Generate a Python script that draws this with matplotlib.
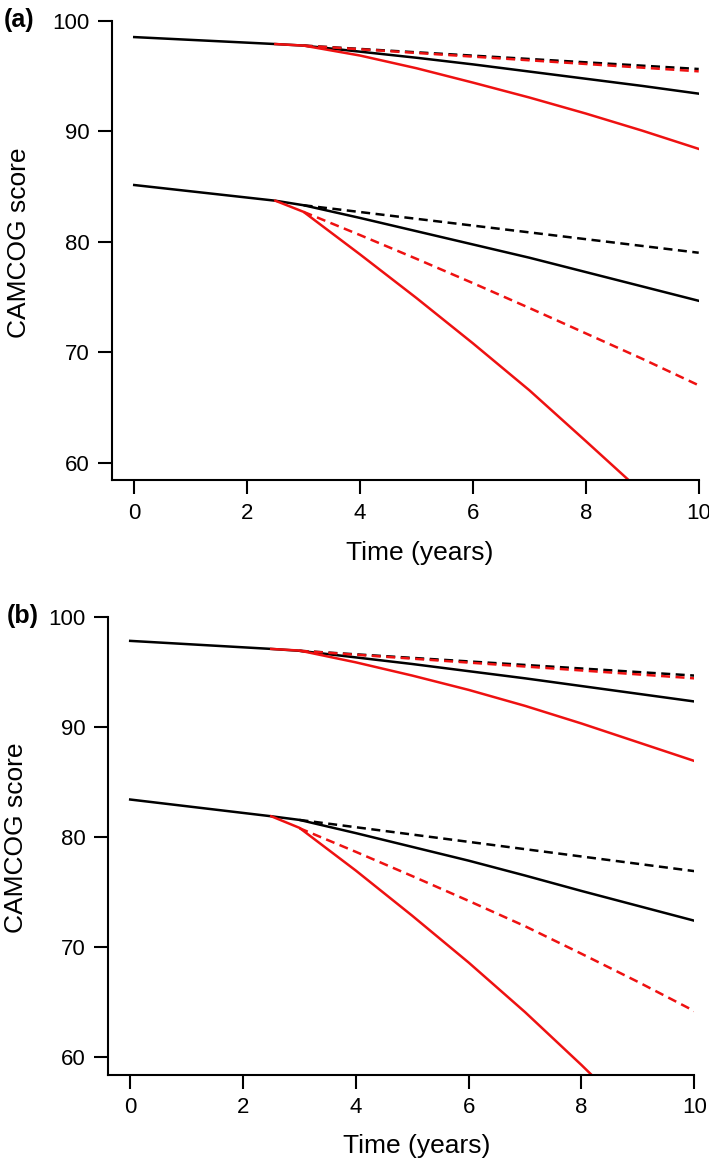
import matplotlib
matplotlib.use('Agg')
import matplotlib.pyplot as plt

plt.rcParams['font.family'] = ['Liberation Sans', 'DejaVu Sans']

# panel (a)
a_hi_base_t = [0, 2.5, 3, 4, 5, 6, 7, 8, 9, 10]
a_hi_base = [98.52, 97.89, 97.75, 97.2, 96.65, 96.05, 95.4, 94.75, 94.1, 93.4]
a_hi_red_t = [2.5, 3, 4, 5, 6, 7, 8, 9, 10]
a_hi_red = [97.89, 97.75, 96.85, 95.7, 94.4, 93.05, 91.6, 90.05, 88.4]
a_hi_dash_t = [3, 10]
a_hi_dash_black = [97.75, 95.63]
a_hi_dash_red = [97.75, 95.42]

a_lo_base_t = [0, 2.5, 3, 4, 5, 6, 7, 8, 9, 10]
a_lo_base = [85.13, 83.71, 83.3, 82.15, 80.95, 79.75, 78.55, 77.25, 75.95, 74.65]
a_lo_red_t = [2.5, 3, 4, 5, 6, 7, 8, 9]
a_lo_red = [83.71, 82.7, 78.85, 74.9, 70.8, 66.55, 61.95, 57.3]
a_lo_dash_t = [3, 10]
a_lo_dash_black = [83.3, 79.0]
a_lo_dash_red_t = [3, 4, 5, 6, 7, 8, 9, 10]
a_lo_dash_red = [82.7, 80.6, 78.45, 76.25, 74.0, 71.7, 69.4, 67.0]

# panel (b)
b_hi_base_t = [0, 2.5, 3, 4, 5, 6, 7, 8, 9, 10]
b_hi_base = [97.8, 97.07, 96.9, 96.3, 95.7, 95.05, 94.4, 93.7, 93.0, 92.3]
b_hi_red_t = [2.5, 3, 4, 5, 6, 7, 8, 9, 10]
b_hi_red = [97.07, 96.92, 95.85, 94.65, 93.35, 91.9, 90.3, 88.6, 86.9]
b_hi_dash_t = [3, 10]
b_hi_dash_black = [96.9, 94.65]
b_hi_dash_red = [96.9, 94.4]

b_lo_base_t = [0, 2.5, 3, 4, 5, 6, 7, 8, 9, 10]
b_lo_base = [83.4, 81.88, 81.55, 80.35, 79.1, 77.85, 76.5, 75.1, 73.75, 72.4]
b_lo_red_t = [2.5, 3, 4, 5, 6, 7, 8, 9]
b_lo_red = [81.88, 80.83, 76.95, 72.85, 68.6, 64.1, 59.3, 54.3]
b_lo_dash_t = [3, 10]
b_lo_dash_black = [81.55, 76.9]
b_lo_dash_red_t = [3, 4, 5, 6, 7, 8, 9, 10]
b_lo_dash_red = [80.8, 78.65, 76.45, 74.2, 71.9, 69.4, 66.85, 64.2]

x_ticks = [0, 2, 4, 6, 8, 10]
y_ticks = [60, 70, 80, 90, 100]

RED = '#ee1111'
LW = 1.8
DASH = (3.6, 2.2)


def draw_panel(ax, hi, lo):
    for grp in (hi, lo):
        base_t, base, red_t, red, dash_t, dash_black, dash_red_t, dash_red = grp
        ax.plot(base_t, base, color='black', lw=LW)
        ax.plot(dash_t, dash_black, color='black', lw=LW, dashes=DASH)
        ax.plot(dash_red_t, dash_red, color=RED, lw=LW, dashes=DASH)
        ax.plot(red_t, red, color=RED, lw=LW)
    ax.set_xlim(-0.4, 10)
    ax.set_ylim(58.4, 100)
    ax.set_xticks(x_ticks)
    ax.set_yticks(y_ticks)
    ax.spines['top'].set_visible(False)
    ax.spines['right'].set_visible(False)
    for s in ('left', 'bottom'):
        ax.spines[s].set_linewidth(1.5)
    ax.tick_params(direction='out', length=10, width=1.5, labelsize=16, pad=6)
    ax.set_xlabel('Time (years)', fontsize=19)
    ax.set_ylabel('CAMCOG score', fontsize=19)
    ax.xaxis.label.set_va('center')
    ax.yaxis.label.set_va('center')


fig = plt.figure(figsize=(7.09, 11.65), dpi=100)
ax1 = fig.add_axes([0.1575, 0.5877, 0.828, 0.3945])
ax2 = fig.add_axes([0.1518, 0.0773, 0.8275, 0.3934])

draw_panel(ax1,
           (a_hi_base_t, a_hi_base, a_hi_red_t, a_hi_red, a_hi_dash_t, a_hi_dash_black, a_hi_dash_t, a_hi_dash_red),
           (a_lo_base_t, a_lo_base, a_lo_red_t, a_lo_red, a_lo_dash_t, a_lo_dash_black, a_lo_dash_red_t, a_lo_dash_red))
draw_panel(ax2,
           (b_hi_base_t, b_hi_base, b_hi_red_t, b_hi_red, b_hi_dash_t, b_hi_dash_black, b_hi_dash_t, b_hi_dash_red),
           (b_lo_base_t, b_lo_base, b_lo_red_t, b_lo_red, b_lo_dash_t, b_lo_dash_black, b_lo_dash_red_t, b_lo_dash_red))

ax1.xaxis.set_label_coords(0.524, -0.158)
ax1.yaxis.set_label_coords(-0.158, 0.518)
ax2.xaxis.set_label_coords(0.526, -0.156)
ax2.yaxis.set_label_coords(-0.156, 0.518)

fig.text(4 / 709, 1 - 19.5 / 1165, '(a)', fontweight='bold', fontsize=18, ha='left', va='center')
fig.text(7 / 709, 1 - 616 / 1165, '(b)', fontweight='bold', fontsize=18, ha='left', va='center')

fig.savefig('out.png', dpi=100)
